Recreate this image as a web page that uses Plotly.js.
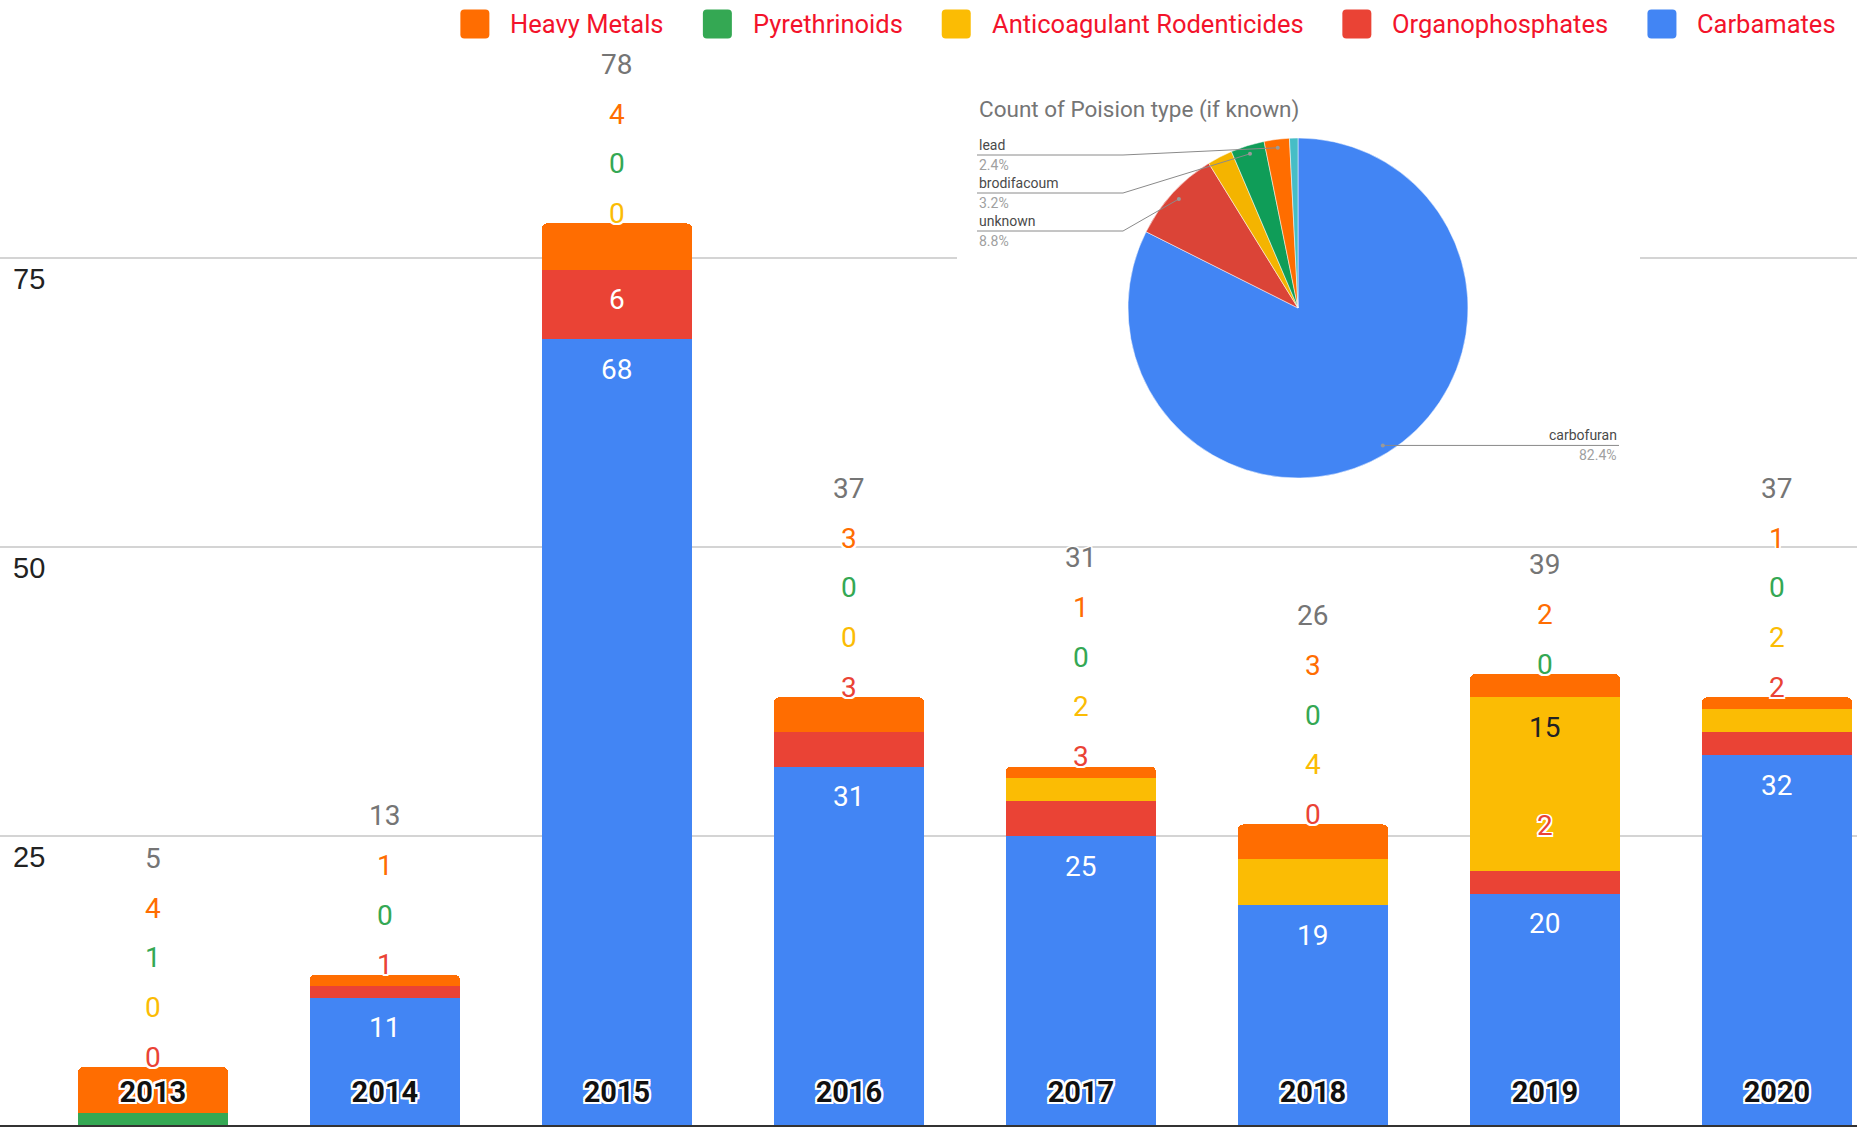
<!DOCTYPE html>
<html><head><meta charset="utf-8">
<script src="https://cdn.plot.ly/plotly-3.0.1.min.js"></script>
<style>html,body{margin:0;padding:0;background:#fff;overflow:hidden}#chart{width:1857px;height:1127px}</style>
</head><body><div id="chart"></div>
<script>
// ---------- data ----------
const years = ['2013','2014','2015','2016','2017','2018','2019','2020'];
const carbamates       = [null, 11, 68, 31, 25, 19, 20, 32];
const organophosphates = [0,     1,  6,  3,  3,  0,  2,  2];
const anticoagulant    = [0,  null,  0,  0,  2,  4, 15,  2];
const pyrethrinoids    = [1,     0,  0,  0,  0,  0,  0,  0];
const heavyMetals      = [4,     1,  4,  3,  1,  3,  2,  1];
const yTicks = [25, 50, 75];

const pieTitle = 'Count of Poision type (if known)';
const pieNames   = ['carbofuran', 'unknown', 'other (a)', 'brodifacoum', 'lead', 'other (b)'];
const pieCounts  = [103, 11, 3, 4, 3, 1];
const pieLabeled = [true, true, false, true, true, false];

// ---------- layout helpers ----------
const W = 1857, H = 1127, MB = 2, PH = H - MB;
const X_RANGE = [-0.659, 7.345];
const Y_RANGE = [0, 97.33];
const pxPerUnit = PH / (Y_RANGE[1] - Y_RANGE[0]);
const px2x = p => p / W;
const py2y = p => (PH - p) / PH;
const px2dx = p => X_RANGE[0] + p / W * (X_RANGE[1] - X_RANGE[0]);
const py2dy = p => Y_RANGE[0] + (PH - p) / pxPerUnit;
const FONT = 'Roboto, Arial, sans-serif';
const halo = (c, w) => [[w,0],[-w,0],[0,w],[0,-w],[w,w],[-w,-w],[w,-w],[-w,w]].map(d => `${d[0]}px ${d[1]}px 0 ${c}`).join(', ');

const stack = [
  {name:'Carbamates', values:carbamates, color:'#4285F4', inside:'#ffffff'},
  {name:'Organophosphates', values:organophosphates, color:'#EA4335', inside:'#ffffff'},
  {name:'Anticoagulant Rodenticides', values:anticoagulant, color:'#FBBC04', inside:'#202124'},
  {name:'Pyrethrinoids', values:pyrethrinoids, color:'#34A853', inside:'#ffffff'},
  {name:'Heavy Metals', values:heavyMetals, color:'#FF6D01', inside:'#ffffff'}
];
const pieColors = ['#4285F4', '#DB4437', '#F4B400', '#0F9D58', '#FF6D00', '#46BDC6'];

const traces = stack.map(s => ({
  type:'bar', name:s.name, x:years, y:s.values, width:0.647,
  marker:{color:s.color, line:{width:0}}, textposition:'none',
  hoverinfo:'skip', showlegend:false
}));

// pie geometry
const PCX = 1298, PCY = 308, PR = 170;
traces.push({
  type:'pie', labels:pieNames, values:pieCounts, sort:false, direction:'clockwise', rotation:0,
  marker:{colors:pieColors, line:{color:'#ffffff', width:0.5}}, textinfo:'none', hoverinfo:'skip',
  showlegend:false,
  domain:{x:[px2x(PCX-PR), px2x(PCX+PR)], y:[py2y(PCY+PR), py2y(PCY-PR)]}
});

const annotations = [];
const shapes = [];

// ---------- bar value labels ----------
const LABEL_H = 55, STEP = 49.7;
const sizeLbl = 28;
years.forEach((yr, i) => {
  let base = 0;
  const outside = [];
  stack.forEach((s, si) => {
    const v = s.values[i];
    if (v == null) return;
    const top = base + v;
    if (v * pxPerUnit >= LABEL_H) {
      annotations.push({x:i, y:top, xref:'x', yref:'y', text:String(v), showarrow:false,
        yanchor:'middle', yshift:-30, font:{family:FONT, size:sizeLbl, color:s.inside}});
    } else {
      let nj = si + 1;
      while (nj < stack.length && stack[nj].values[i] == null) nj++;
      const nv = nj < stack.length ? stack[nj].values[i] : null;
      if (nv != null && nv * pxPerUnit >= 3 * LABEL_H) {
        annotations.push({x:i, y:top, xref:'x', yref:'y', text:String(v), showarrow:false,
          yanchor:'middle', yshift:45, font:{family:FONT, size:sizeLbl, color:s.color, shadow:halo('#fff',1.5)}});
      } else {
        outside.push({s, v});
      }
    }
    base = top;
  });
  const total = base;
  outside.forEach((o, k) => {
    annotations.push({x:i, y:total, xref:'x', yref:'y', text:String(o.v), showarrow:false,
      yanchor:'middle', yshift:10 + k * STEP, font:{family:FONT, size:sizeLbl, color:o.s.color, shadow:halo('#fff',1.5)}});
  });
  annotations.push({x:i, y:total, xref:'x', yref:'y', text:String(total), showarrow:false,
    yanchor:'middle', yshift:10 + outside.length * STEP, font:{family:FONT, size:sizeLbl, color:'#757575', shadow:halo('#fff',1.5)}});
});

// ---------- white box behind the pie (covers gridline) ----------
shapes.push({type:'rect', xref:'x', yref:'y', x0:px2dx(957), x1:px2dx(1640), y0:py2dy(520), y1:py2dy(70),
  fillcolor:'#ffffff', line:{width:0}, layer:'between'});

// ---------- pie title & labels ----------
annotations.push({xref:'paper', yref:'paper', x:px2x(977), y:py2y(109), xanchor:'left', yanchor:'middle',
  text:pieTitle, showarrow:false, font:{family:FONT, size:22.5, color:'#757575'}});

const pieTotal = pieCounts.reduce((a, b) => a + b, 0);
let cum = 0;
const pieInfo = pieCounts.map((c, k) => {
  const mid = (cum + c / 2) / pieTotal * 360; cum += c;
  const rad = mid * Math.PI / 180;
  return {k, mid, dx: PCX + 0.95 * PR * Math.sin(rad), dy: PCY - 0.95 * PR * Math.cos(rad),
          pct: (c / pieTotal * 100).toFixed(1) + '%'};
});
const lineCol = '#8a8a8a';
const PL = 14;
const leftLabels = pieInfo.filter(p => pieLabeled[p.k] && p.mid > 180).sort((a, b) => b.mid - a.mid);
leftLabels.forEach((p, j) => {
  const ly = 155 + j * 38;
  shapes.push({type:'path', xref:'paper', yref:'paper',
    path:`M${px2x(977)},${py2y(ly)} L${px2x(1123)},${py2y(ly)} L${px2x(p.dx)},${py2y(p.dy)}`,
    line:{color:lineCol, width:1}});
  annotations.push({xref:'paper', yref:'paper', x:px2x(977), y:py2y(ly), xanchor:'left', yanchor:'bottom',
    text:pieNames[p.k], showarrow:false, font:{family:FONT, size:PL, color:'#4a4a4a'}});
  annotations.push({xref:'paper', yref:'paper', x:px2x(977), y:py2y(ly), xanchor:'left', yanchor:'top',
    text:p.pct, showarrow:false, font:{family:FONT, size:PL, color:'#a0a0a0'}});
});
pieInfo.filter(p => pieLabeled[p.k] && p.mid <= 180).forEach(p => {
  shapes.push({type:'path', xref:'paper', yref:'paper',
    path:`M${px2x(p.dx)},${py2y(p.dy)} L${px2x(1619)},${py2y(p.dy)}`, line:{color:lineCol, width:1}});
  annotations.push({xref:'paper', yref:'paper', x:px2x(1619), y:py2y(p.dy), xanchor:'right', yanchor:'bottom',
    text:pieNames[p.k], showarrow:false, font:{family:FONT, size:PL, color:'#4a4a4a'}});
  annotations.push({xref:'paper', yref:'paper', x:px2x(1619), y:py2y(p.dy), xanchor:'right', yanchor:'top',
    text:p.pct, showarrow:false, font:{family:FONT, size:PL, color:'#a0a0a0'}});
});
pieInfo.filter(p => pieLabeled[p.k]).forEach(p => {
  shapes.push({type:'circle', xref:'paper', yref:'paper', x0:px2x(p.dx-2), x1:px2x(p.dx+2),
    y0:py2y(p.dy+2), y1:py2y(p.dy-2), fillcolor:'#9a9a9a', line:{width:0}});
});

// ---------- custom legend ----------
const LEG_SIZE = 25.5, LEG_Y = 24, MK = 29;
const cv = document.createElement('canvas').getContext('2d');
cv.font = `${LEG_SIZE}px Roboto`;
function rr(x0, y0, x1, y1, r) {
  const P = (x, y) => `${px2x(x)},${py2y(y)}`;
  return `M${P(x0+r,y0)} L${P(x1-r,y0)} Q${P(x1,y0)} ${P(x1,y0+r)} L${P(x1,y1-r)} Q${P(x1,y1)} ${P(x1-r,y1)} ` +
         `L${P(x0+r,y1)} Q${P(x0,y1)} ${P(x0,y1-r)} L${P(x0,y0+r)} Q${P(x0,y0)} ${P(x0+r,y0)} Z`;
}
let textEnd = 1835;
stack.forEach(s => {
  const w = cv.measureText(s.name).width;
  const ts = textEnd - w;
  const mr = ts - 20, ml = mr - MK;
  annotations.push({xref:'paper', yref:'paper', x:px2x(ts), y:py2y(LEG_Y), xanchor:'left', yanchor:'middle',
    text:s.name, showarrow:false, borderpad:0, font:{family:FONT, size:LEG_SIZE, color:'#f3132b'}});
  shapes.push({type:'path', xref:'paper', yref:'paper', path:rr(ml, LEG_Y-MK/2, mr, LEG_Y+MK/2, 4),
    fillcolor:s.color, line:{width:0}});
  textEnd = ml - 40;
});

const layout = {
  width:W, height:H, margin:{l:0, r:0, t:0, b:MB, pad:0},
  paper_bgcolor:'#ffffff', plot_bgcolor:'#ffffff',
  barmode:'stack', bargap:0, barcornerradius:5, showlegend:false, hovermode:false,
  xaxis:{type:'category', categoryorder:'array', categoryarray:years, range:X_RANGE,
    showgrid:false, zeroline:false, showline:true, linecolor:'#333333', linewidth:2, ticks:'',
    ticklabelposition:'inside', ticklabelstandoff:20,
    tickfont:{family:FONT, size:29, weight:'bold', color:'#111111', shadow:halo('#ffffff',2)},
    fixedrange:true},
  yaxis:{range:Y_RANGE, tickvals:yTicks, ticktext:yTicks.map(String), showgrid:true,
    gridcolor:'#d4d4d4', gridwidth:2, zeroline:false, showline:false, ticks:'',
    ticklabelposition:'inside', ticklabelstandoff:10, ticklabelshift:21,
    tickfont:{family:'Arial, "Liberation Sans", sans-serif', size:29, color:'#222222'}, fixedrange:true},
  annotations, shapes
};
Plotly.newPlot('chart', traces, layout, {staticPlot:true, displayModeBar:false});
</script></body></html>
